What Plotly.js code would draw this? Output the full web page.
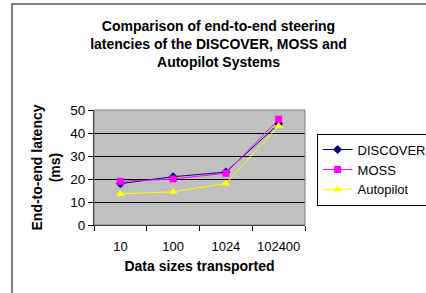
<!DOCTYPE html>
<html>
<head>
<meta charset="utf-8">
<script src="https://cdn.plot.ly/plotly-3.0.1.min.js"></script>
<style>
html,body{margin:0;padding:0;background:#fff;overflow:hidden;}
#frame{position:absolute;left:11px;top:3px;width:500px;height:400px;border:2px solid #808080;box-sizing:border-box;}
#chart{position:absolute;left:0;top:0;width:426px;height:293px;}
</style>
</head>
<body>
<div id="frame"></div>
<div id="chart"></div>
<script>
var categories = ["10", "100", "1024", "102400"];
var discover = [18, 21, 23, 44];
var moss = [19, 20, 22.5, 46];
var autopilot = [13.5, 14.5, 18, 43];
var yTicks = [0, 10, 20, 30, 40, 50];

var FONT = "Liberation Sans, Arial, sans-serif";

var traces = [
  {x: categories, y: discover, name: "DISCOVER", type: "scatter", mode: "lines+markers",
   line: {color: "#000080", width: 1}, marker: {symbol: "diamond", size: 7, color: "#000080"}},
  {x: categories, y: moss, name: "MOSS", type: "scatter", mode: "lines+markers",
   line: {color: "#ff00ff", width: 1}, marker: {symbol: "square", size: 7, color: "#ff00ff"}},
  {x: categories, y: autopilot, name: "Autopilot", type: "scatter", mode: "lines+markers",
   line: {color: "#ffff00", width: 1}, marker: {symbol: "triangle-up", size: 8, color: "#ffff00"}}
];

var layout = {
  width: 426, height: 293,
  margin: {l: 94, r: 121, t: 110, b: 68, pad: 0, autoexpand: false},
  paper_bgcolor: "rgba(0,0,0,0)",
  plot_bgcolor: "#c0c0c0",
  font: {family: FONT, size: 13, color: "#000"},
  showlegend: true,
  title: {
    text: "<b>Comparison of end-to-end steering<br>latencies of the DISCOVER, MOSS and<br>Autopilot Systems</b>",
    font: {family: FONT, size: 14, color: "#000"},
    x: 0.59, xref: "paper", xanchor: "center",
    y: 0.894, yref: "container", yanchor: "top"
  },
  xaxis: {
    type: "category",
    tickson: "boundaries",
    ticks: "outside", ticklen: 5, tickcolor: "#000",
    showline: true, linecolor: "#000", linewidth: 1, mirror: false,
    showgrid: false, zeroline: false, tickangle: 0,
    ticklabelstandoff: 9,
    tickfont: {family: FONT, size: 13},
    title: {text: "<b>Data sizes transported</b>", font: {family: FONT, size: 14}, standoff: 8},
    range: [-0.5, 3.5], automargin: false
  },
  yaxis: {
    range: [0, 50], tickvals: yTicks,
    ticks: "outside", ticklen: 5, tickcolor: "#000",
    showline: true, linecolor: "#000", linewidth: 1,
    showgrid: true, gridcolor: "#000", gridwidth: 1, zeroline: false,
    tickfont: {family: FONT, size: 13.5},
    title: {text: "<b>End-to-end latency<br>(ms)</b>", font: {family: FONT, size: 14}, standoff: 6},
    automargin: false
  },
  shapes: [
    {type: "rect", xref: "paper", yref: "paper", x0: 0, x1: 1, y0: 0, y1: 1,
     line: {color: "#808080", width: 1}, fillcolor: "rgba(0,0,0,0)", layer: "above"}
  ],
  legend: {
    x: 1.055, y: 0.795, xanchor: "left", yanchor: "top",
    bgcolor: "#ffffff", bordercolor: "#000", borderwidth: 1,
    font: {family: FONT, size: 13},
    itemwidth: 30, tracegroupgap: 0
  }
};

Plotly.newPlot("chart", traces, layout, {displayModeBar: false, staticPlot: true});
</script>
</body>
</html>
